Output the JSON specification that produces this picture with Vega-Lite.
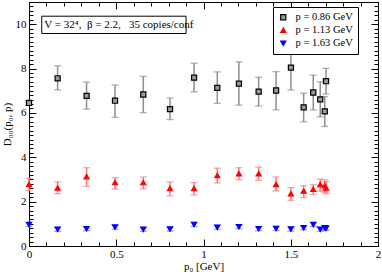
{
  "$schema": "https://vega.github.io/schema/vega-lite/v6.json",
  "autosize": {"type": "none"},
  "width": 349,
  "height": 244,
  "padding": {"left": 29, "top": 2, "right": 4, "bottom": 26},
  "background": "white",
  "config": {
    "view": {"stroke": "black", "strokeWidth": 1},
    "axis": {
      "grid": false,
      "domainColor": "black",
      "domainWidth": 1,
      "tickColor": "black",
      "tickWidth": 1,
      "labelFont": "Liberation Serif",
      "labelFontSize": 11,
      "labelColor": "black",
      "titleFont": "Liberation Serif",
      "titleFontSize": 11,
      "titleFontWeight": "normal",
      "titleColor": "black"
    },
    "legend": {
      "orient": "none",
      "legendX": 244,
      "legendY": 5,
      "strokeColor": "black",
      "fillColor": "white",
      "padding": 5,
      "symbolSize": 26,
      "symbolStrokeWidth": 1.2,
      "rowPadding": 2,
      "labelOffset": 7,
      "labelFont": "Liberation Serif",
      "labelFontSize": 10.5,
      "labelColor": "black"
    }
  },
  "data": {
    "values": [
      {"s": "p = 0.86 GeV", "p0": 0, "v": 6.45, "lo": 6.35, "hi": 6.55},
      {"s": "p = 0.86 GeV", "p0": 0.164, "v": 7.56, "lo": 7.04, "hi": 8.12},
      {"s": "p = 0.86 GeV", "p0": 0.33, "v": 6.77, "lo": 6.17, "hi": 7.39},
      {"s": "p = 0.86 GeV", "p0": 0.493, "v": 6.55, "lo": 5.80, "hi": 7.26},
      {"s": "p = 0.86 GeV", "p0": 0.655, "v": 6.83, "lo": 6.01, "hi": 7.65},
      {"s": "p = 0.86 GeV", "p0": 0.808, "v": 6.17, "lo": 5.70, "hi": 6.67},
      {"s": "p = 0.86 GeV", "p0": 0.946, "v": 7.59, "lo": 6.95, "hi": 8.24},
      {"s": "p = 0.86 GeV", "p0": 1.079, "v": 7.13, "lo": 6.43, "hi": 7.85},
      {"s": "p = 0.86 GeV", "p0": 1.203, "v": 7.32, "lo": 6.35, "hi": 8.30},
      {"s": "p = 0.86 GeV", "p0": 1.316, "v": 6.96, "lo": 6.31, "hi": 7.61},
      {"s": "p = 0.86 GeV", "p0": 1.416, "v": 7.01, "lo": 6.14, "hi": 7.86},
      {"s": "p = 0.86 GeV", "p0": 1.501, "v": 8.04, "lo": 7.03, "hi": 9.05},
      {"s": "p = 0.86 GeV", "p0": 1.574, "v": 6.25, "lo": 5.60, "hi": 6.89},
      {"s": "p = 0.86 GeV", "p0": 1.629, "v": 6.92, "lo": 6.13, "hi": 7.71},
      {"s": "p = 0.86 GeV", "p0": 1.669, "v": 6.61, "lo": 5.82, "hi": 7.40},
      {"s": "p = 0.86 GeV", "p0": 1.695, "v": 6.07, "lo": 5.39, "hi": 6.73},
      {"s": "p = 0.86 GeV", "p0": 1.702, "v": 7.43, "lo": 6.85, "hi": 8.01},
      {"s": "p = 1.13 GeV", "p0": 0, "v": 2.78, "lo": 2.5, "hi": 3.05},
      {"s": "p = 1.13 GeV", "p0": 0.164, "v": 2.62, "lo": 2.36, "hi": 2.89},
      {"s": "p = 1.13 GeV", "p0": 0.33, "v": 3.13, "lo": 2.69, "hi": 3.53},
      {"s": "p = 1.13 GeV", "p0": 0.493, "v": 2.86, "lo": 2.57, "hi": 3.08},
      {"s": "p = 1.13 GeV", "p0": 0.655, "v": 2.86, "lo": 2.57, "hi": 3.11},
      {"s": "p = 1.13 GeV", "p0": 0.808, "v": 2.59, "lo": 2.26, "hi": 2.89},
      {"s": "p = 1.13 GeV", "p0": 0.946, "v": 2.59, "lo": 2.30, "hi": 2.86},
      {"s": "p = 1.13 GeV", "p0": 1.079, "v": 3.18, "lo": 2.84, "hi": 3.51},
      {"s": "p = 1.13 GeV", "p0": 1.203, "v": 3.26, "lo": 2.99, "hi": 3.53},
      {"s": "p = 1.13 GeV", "p0": 1.316, "v": 3.26, "lo": 2.96, "hi": 3.56},
      {"s": "p = 1.13 GeV", "p0": 1.416, "v": 2.78, "lo": 2.48, "hi": 3.11},
      {"s": "p = 1.13 GeV", "p0": 1.501, "v": 2.36, "lo": 2.06, "hi": 2.63},
      {"s": "p = 1.13 GeV", "p0": 1.574, "v": 2.48, "lo": 2.18, "hi": 2.72},
      {"s": "p = 1.13 GeV", "p0": 1.629, "v": 2.56, "lo": 2.32, "hi": 2.77},
      {"s": "p = 1.13 GeV", "p0": 1.669, "v": 2.77, "lo": 2.47, "hi": 3.02},
      {"s": "p = 1.13 GeV", "p0": 1.695, "v": 2.72, "lo": 2.42, "hi": 2.98},
      {"s": "p = 1.13 GeV", "p0": 1.702, "v": 2.62, "lo": 2.36, "hi": 2.90},
      {"s": "p = 1.63 GeV", "p0": 0, "v": 0.97, "lo": 0.88, "hi": 1.06},
      {"s": "p = 1.63 GeV", "p0": 0.164, "v": 0.75, "lo": 0.66, "hi": 0.84},
      {"s": "p = 1.63 GeV", "p0": 0.33, "v": 0.78, "lo": 0.69, "hi": 0.87},
      {"s": "p = 1.63 GeV", "p0": 0.493, "v": 0.85, "lo": 0.76, "hi": 0.94},
      {"s": "p = 1.63 GeV", "p0": 0.655, "v": 0.75, "lo": 0.66, "hi": 0.84},
      {"s": "p = 1.63 GeV", "p0": 0.808, "v": 0.76, "lo": 0.67, "hi": 0.85},
      {"s": "p = 1.63 GeV", "p0": 0.946, "v": 0.97, "lo": 0.88, "hi": 1.06},
      {"s": "p = 1.63 GeV", "p0": 1.079, "v": 0.84, "lo": 0.75, "hi": 0.93},
      {"s": "p = 1.63 GeV", "p0": 1.203, "v": 0.87, "lo": 0.78, "hi": 0.96},
      {"s": "p = 1.63 GeV", "p0": 1.316, "v": 0.78, "lo": 0.69, "hi": 0.87},
      {"s": "p = 1.63 GeV", "p0": 1.416, "v": 0.79, "lo": 0.70, "hi": 0.88},
      {"s": "p = 1.63 GeV", "p0": 1.501, "v": 0.76, "lo": 0.67, "hi": 0.85},
      {"s": "p = 1.63 GeV", "p0": 1.574, "v": 0.82, "lo": 0.73, "hi": 0.91},
      {"s": "p = 1.63 GeV", "p0": 1.629, "v": 0.97, "lo": 0.88, "hi": 1.06},
      {"s": "p = 1.63 GeV", "p0": 1.669, "v": 0.75, "lo": 0.66, "hi": 0.84},
      {"s": "p = 1.63 GeV", "p0": 1.695, "v": 0.82, "lo": 0.73, "hi": 0.91},
      {"s": "p = 1.63 GeV", "p0": 1.702, "v": 0.80, "lo": 0.71, "hi": 0.89}
    ]
  },
  "resolve": {"axis": {"x": "independent", "y": "independent"}},
  "layer": [
    {
      "mark": {"type": "rule", "strokeWidth": 1.5},
      "encoding": {
        "x": {
          "field": "p0", "type": "quantitative",
          "scale": {"domain": [0, 2], "nice": false, "zero": false},
          "axis": {
            "orient": "bottom",
            "values": [0, 0.1, 0.2, 0.3, 0.4, 0.5, 0.6, 0.7, 0.8, 0.9, 1, 1.1, 1.2, 1.3, 1.4, 1.5, 1.6, 1.7, 1.8, 1.9, 2],
            "format": "~g",
            "labelExpr": "abs(datum.value*2-round(datum.value*2))<0.001 ? datum.label : ''",
            "tickSize": {"condition": {"test": "abs(datum.value*2-round(datum.value*2))<0.001", "value": -7}, "value": -4},
            "labelPadding": 9,
            "labelFlush": false,
            "labelOverlap": false,
            "title": "p₀  [GeV]",
            "titlePadding": -2
          }
        },
        "y": {
          "field": "lo", "type": "quantitative",
          "scale": {"domain": [0, 11], "nice": false, "zero": false},
          "axis": {
            "orient": "left",
            "values": [0,0.2,0.4,0.6,0.8,1,1.2,1.4,1.6,1.8,2,2.2,2.4,2.6,2.8,3,3.2,3.4,3.6,3.8,4,4.2,4.4,4.6,4.8,5,5.2,5.4,5.6,5.8,6,6.2,6.4,6.6,6.8,7,7.2,7.4,7.6,7.8,8,8.2,8.4,8.6,8.8,9,9.2,9.4,9.6,9.8,10,10.2,10.4,10.6,10.8],
            "format": "~g",
            "labelExpr": "abs(datum.value/2-round(datum.value/2))<0.001 ? datum.label : ''",
            "tickSize": {"condition": {"test": "abs(datum.value/2-round(datum.value/2))<0.001", "value": -7}, "value": -4},
            "labelPadding": 10,
            "labelFlush": false,
            "labelOverlap": false,
            "title": "D₀₀(p₀, p)",
            "titlePadding": 3
          }
        },
        "y2": {"field": "hi"},
        "color": {
          "field": "s", "type": "nominal",
          "scale": {"range": ["#8f8f8f", "#ff7a7a", "#7a7aff"]},
          "legend": null
        }
      }
    },
    {
      "mark": {"type": "tick", "orient": "horizontal", "size": 7, "thickness": 1.3},
      "encoding": {
        "x": {"field": "p0", "type": "quantitative", "axis": null},
        "y": {"field": "hi", "type": "quantitative", "axis": null},
        "color": {"field": "s", "type": "nominal", "legend": null}
      }
    },
    {
      "mark": {"type": "tick", "orient": "horizontal", "size": 7, "thickness": 1.3},
      "encoding": {
        "x": {"field": "p0", "type": "quantitative", "axis": null},
        "y": {"field": "lo", "type": "quantitative", "axis": null},
        "color": {"field": "s", "type": "nominal", "legend": null}
      }
    },
    {
      "data": {"values": [{}]},
      "mark": {"type": "rect", "fill": "white", "stroke": "black", "strokeWidth": 1},
      "encoding": {
        "x": {"datum": 0.073, "type": "quantitative", "axis": null},
        "x2": {"datum": 0.90},
        "y": {"datum": 10.36, "type": "quantitative", "axis": null},
        "y2": {"datum": 9.58}
      }
    },
    {
      "data": {"values": [{}]},
      "mark": {"type": "text", "align": "left", "baseline": "middle", "font": "Liberation Serif", "fontSize": 11, "color": "black"},
      "encoding": {
        "x": {"datum": 0.088, "type": "quantitative", "axis": null},
        "y": {"datum": 9.97, "type": "quantitative", "axis": null},
        "text": {"value": "V = 32⁴,\u00a0\u00a0β = 2.2,\u00a0\u00a0 35 copies/conf"}
      }
    },
    {
      "mark": {"type": "point", "size": 26, "strokeWidth": 1.2, "opacity": 1},
      "encoding": {
        "x": {
          "field": "p0", "type": "quantitative",
          "axis": {
            "orient": "top",
            "values": [0, 0.1, 0.2, 0.3, 0.4, 0.5, 0.6, 0.7, 0.8, 0.9, 1, 1.1, 1.2, 1.3, 1.4, 1.5, 1.6, 1.7, 1.8, 1.9, 2],
            "labels": false,
            "tickSize": {"condition": {"test": "abs(datum.value*2-round(datum.value*2))<0.001", "value": -7}, "value": -4},
            "title": null
          }
        },
        "y": {
          "field": "v", "type": "quantitative",
          "axis": {
            "orient": "right",
            "values": [0,0.2,0.4,0.6,0.8,1,1.2,1.4,1.6,1.8,2,2.2,2.4,2.6,2.8,3,3.2,3.4,3.6,3.8,4,4.2,4.4,4.6,4.8,5,5.2,5.4,5.6,5.8,6,6.2,6.4,6.6,6.8,7,7.2,7.4,7.6,7.8,8,8.2,8.4,8.6,8.8,9,9.2,9.4,9.6,9.8,10,10.2,10.4,10.6,10.8],
            "labels": false,
            "tickSize": {"condition": {"test": "abs(datum.value/2-round(datum.value/2))<0.001", "value": -7}, "value": -4},
            "title": null
          }
        },
        "shape": {
          "field": "s", "type": "nominal", "title": null,
          "scale": {"domain": ["p = 0.86 GeV", "p = 1.13 GeV", "p = 1.63 GeV"], "range": ["square", "triangle-up", "triangle-down"]}
        },
        "fill": {
          "field": "s", "type": "nominal", "title": null,
          "scale": {"domain": ["p = 0.86 GeV", "p = 1.13 GeV", "p = 1.63 GeV"], "range": ["#9a9a9a", "#ff0000", "#0000ff"]}
        },
        "stroke": {
          "field": "s", "type": "nominal", "title": null,
          "scale": {"domain": ["p = 0.86 GeV", "p = 1.13 GeV", "p = 1.63 GeV"], "range": ["#000000", "#ff0000", "#0000ff"]}
        }
      }
    }
  ]
}
